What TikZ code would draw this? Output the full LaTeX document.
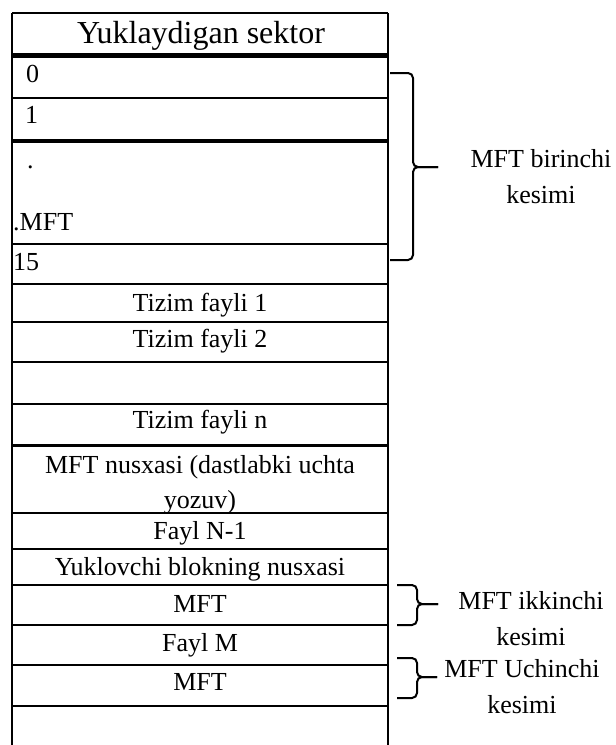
\documentclass[tikz,border=0pt]{standalone}
\usepackage{fontspec}
\setmainfont{Liberation Serif}
\usetikzlibrary{positioning}

\begin{document}
\begin{tikzpicture}[x=1pt,y=-1pt,
    katak/.style={line width=1.5pt},
    qalin/.style={line width=4.5pt},
    qavs/.style={line width=2pt,rounded corners=5pt},
    matn/.style={font=\fontsize{26}{35.5}\selectfont,inner sep=0pt,anchor=base},
    chap/.style={matn,anchor=base west}]
    \useasboundingbox (0,0) rectangle (616,745);

    % jadval chegaralari
    \draw[katak] (12,13) -- (12,745);
    \draw[katak] (388,13) -- (388,745);
    \foreach \y in {13,98,244,284,322,362,404,513,549,585,625,665,706}
        \draw[katak] (12,\y) -- (388,\y);
    \foreach \y in {55.5,141}
        \draw[qalin] (12,\y) -- (388,\y);
    \draw[katak,line width=3pt] (12,445.5) -- (388,445.5);

    % kataklar matni (ko'p qatorli matn oxirgi qator bo'yicha joylashadi)
    \node[matn,font=\fontsize{32}{38}\selectfont] (sektor) at (201,43) {Yuklaydigan sektor};
    \node[chap] (s0) at (26,82) {0};
    \node[chap] (s1) at (25,123) {1};
    \node[chap] (nuqta) at (27,168) {.};
    \node[chap] (mft0) at (13,230) {.MFT};
    \node[chap] (s15) at (13,270) {15};
    \node[matn] (tizim1) at (200,311) {Tizim fayli 1};
    \node[matn] (tizim2) at (200,347) {Tizim fayli 2};
    \node[matn] (tizimn) at (200,428) {Tizim fayli n};
    \node[matn,align=center] (nusxa) at (200,508.5) {MFT nusxasi (dastlabki uchta\\yozuv)};
    \node[matn] (fayln) at (200,539) {Fayl N-1};
    \node[matn] (yuklovchi) at (200,575) {Yuklovchi blokning nusxasi};
    \node[matn] (mft1) at (200,612) {MFT};
    \node[matn] (faylm) at (200,651) {Fayl M};
    \node[matn] (mft2) at (200,690) {MFT};

    % qavslar
    \foreach \ust/\ost/\bosh/\egri/\uch/\ort in {73/260/390/413/438/167,
                                                585/625/397/417/438/604,
                                                658/698/397/417/437/677} {
        \draw[qavs] (\bosh,\ust) -- (\egri,\ust) -- (\egri,\ort) -- (\uch,\ort);
        \draw[qavs] (\bosh,\ost) -- (\egri,\ost) -- (\egri,\ort) -- (\uch,\ort);
    }
    \node[matn,align=center] (birinchi) at (541,203) {MFT birinchi\\kesimi};
    \node[matn,align=center] (ikkinchi) at (531,645) {MFT ikkinchi\\kesimi};
    \node[matn,align=center] (uchinchi) at (522,713) {MFT Uchinchi\\kesimi};
\end{tikzpicture}
\end{document}
